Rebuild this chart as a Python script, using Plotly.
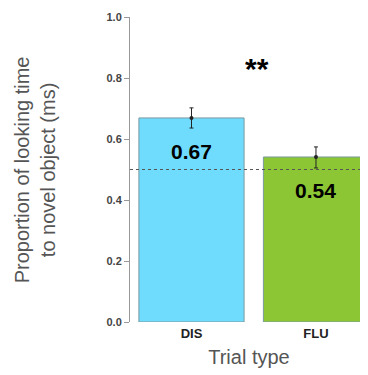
import plotly.graph_objects as go

categories = ["DIS", "FLU"]
values = [0.669, 0.541]
err_plus = [0.033, 0.033]
err_minus = [0.033, 0.036]
labels = ["0.67", "0.54"]
colors = ["#70DCFD", "#8DC634"]
chance = 0.5
ytick_vals = [0.0, 0.2, 0.4, 0.6, 0.8, 1.0]

xs = list(range(len(categories)))

fig = go.Figure()
fig.add_trace(go.Bar(
    x=xs, y=values, width=0.845,
    marker=dict(color=colors, line=dict(color="#7a9aa0", width=1)),
    error_y=dict(type="data", array=err_plus, arrayminus=err_minus,
                 color="#222", thickness=1, width=2),
    showlegend=False, hoverinfo="skip",
))
fig.add_trace(go.Scatter(
    x=xs, y=values, mode="markers",
    marker=dict(color="#222", size=4), showlegend=False, hoverinfo="skip",
))
fig.add_shape(type="line", xref="paper", x0=0, x1=1, yref="y", y0=chance, y1=chance,
              line=dict(color="#555", width=1, dash="3px,3px"))

label_offsets = [-0.11, -0.11]
for x, v, t, o in zip(xs, values, labels, label_offsets):
    fig.add_annotation(x=x, y=v + o, text="<b>%s</b>" % t, showarrow=False,
                       font=dict(family="Liberation Sans, Arial", size=21, color="black"))

fig.add_annotation(x=0.53, y=0.83, xref="x", yref="y", text="<b>**</b>", showarrow=False,
                   font=dict(family="Liberation Sans, Arial", size=30, color="black"))

fig.add_annotation(x=-0.40, xref="paper", xanchor="center", y=0.5, yref="paper",
                   text="Proportion of looking time<br>to novel object (ms)",
                   textangle=-90, showarrow=False,
                   font=dict(family="Liberation Sans, Arial", size=20, color="#555"))

fig.update_layout(
    width=360, height=367,
    margin=dict(l=122, r=0, t=9, b=53),
    plot_bgcolor="white", paper_bgcolor="white",
    xaxis=dict(range=[-0.494, 1.418], tickvals=xs,
               ticktext=["<b>%s</b>" % c for c in categories],
               showline=False, showgrid=False, zeroline=False, ticks="",
               ticklabelstandoff=2,
               tickfont=dict(family="Liberation Sans, Arial", size=13, color="#222"),
               title=dict(text="Trial type", standoff=9,
                          font=dict(family="Liberation Sans, Arial", size=20, color="#555"))),
    yaxis=dict(range=[0, 1.0], tickvals=ytick_vals,
               ticktext=["<b>%.1f</b>" % v for v in ytick_vals],
               showline=True, linecolor="#999", linewidth=1,
               ticks="outside", ticklen=5, tickcolor="#999",
               showgrid=False, zeroline=False,
               tickfont=dict(family="Liberation Sans, Arial", size=11, color="#444")),
)

fig.write_html("out.html")
